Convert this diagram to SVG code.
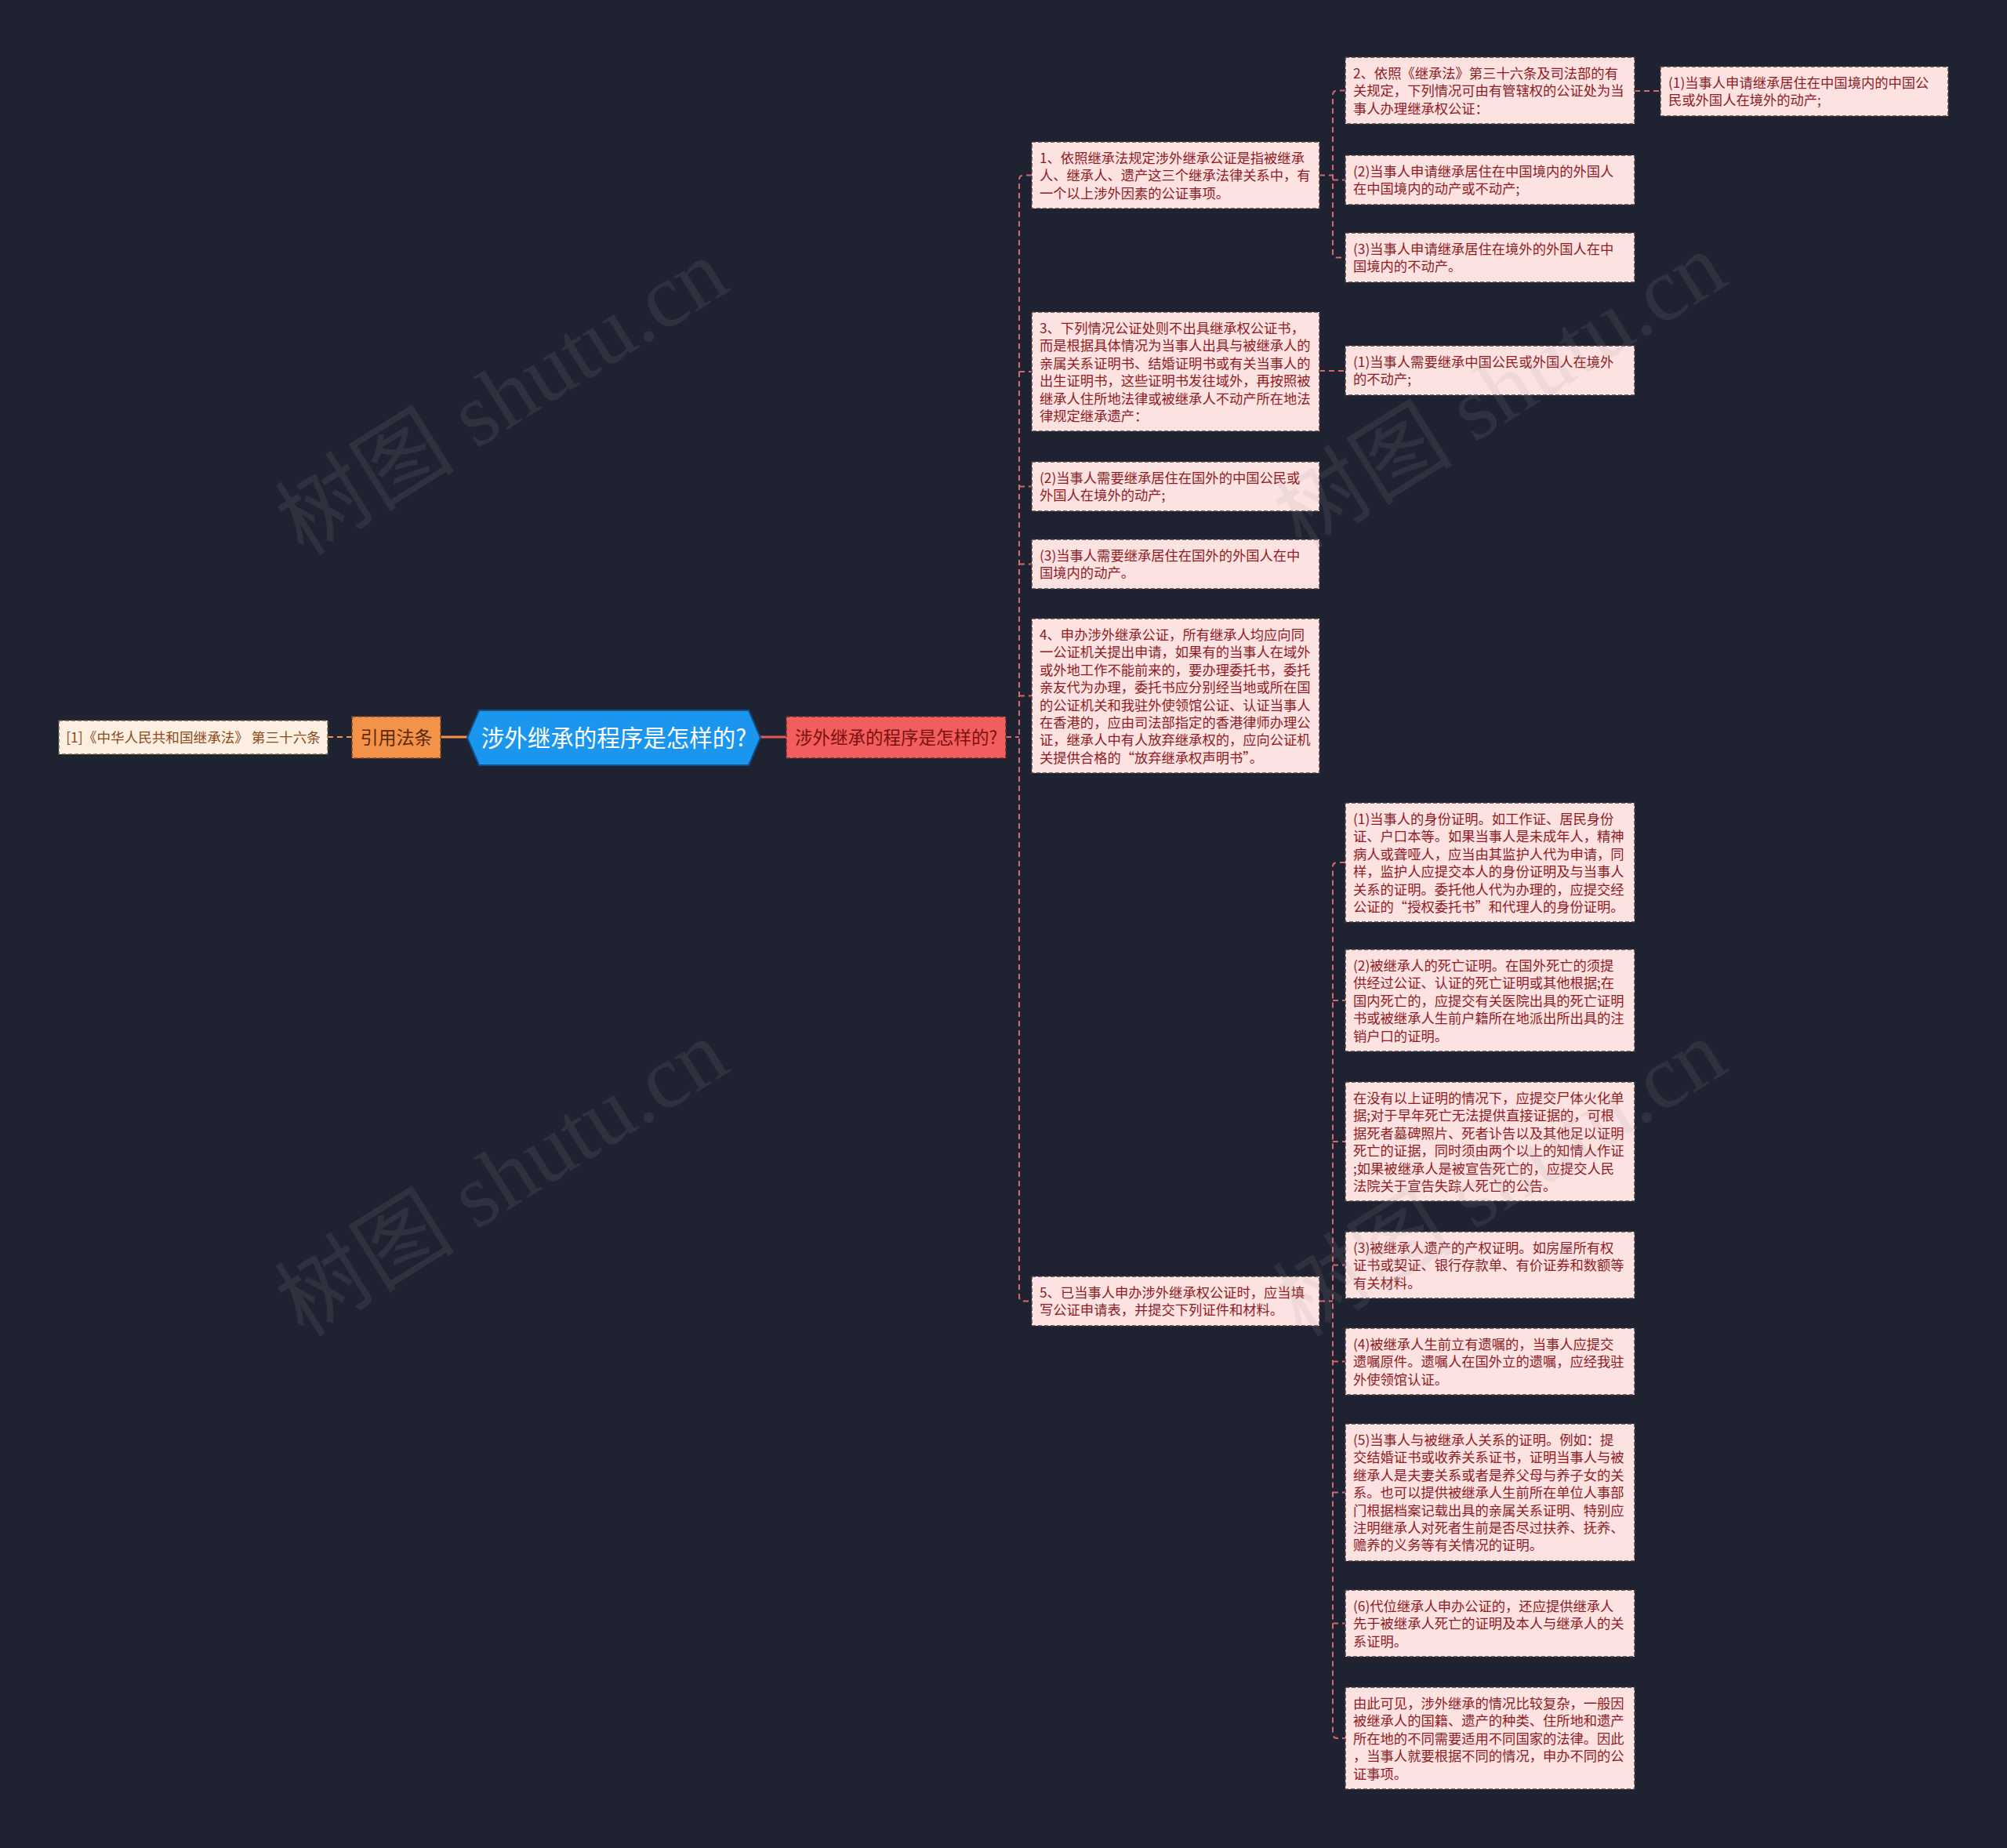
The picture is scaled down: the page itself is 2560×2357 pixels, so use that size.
<svg xmlns="http://www.w3.org/2000/svg" width="2560" height="2357" viewBox="0 0 2560 2357">
<style>
.leaf rect{fill:#fde2e2;stroke:#4a3d3f;stroke-width:1.5;stroke-dasharray:5 3}
.leaf text{font-family:"Microsoft YaHei","Noto Sans CJK SC","Noto Sans",sans-serif;font-size:17.3px;fill:#8e1c22}
.con{fill:none;stroke:#d8686b;stroke-width:2;stroke-dasharray:7 5}
.wm{font-family:"Liberation Serif","Noto Sans CJK SC",serif;font-size:115px;fill:#9a9a9a;opacity:0.13}
</style>
<rect x="0" y="0" width="2560" height="2357" fill="#1f2331"/>

<g id="connectors">
  <line x1="418" y1="940" x2="449" y2="940" stroke="#f5924a" stroke-width="2" stroke-dasharray="7 5"/>
  <line x1="562" y1="940" x2="598" y2="940" stroke="#f5924a" stroke-width="3"/>
  <line x1="968" y1="940" x2="1003" y2="940" stroke="#e05a5a" stroke-width="3"/>
  <line class="con" x1="1283" y1="940" x2="1300" y2="940"/>
  <path class="con" d="M1316 223.5 H1306 Q1300 223.5 1300 229.5 V1653.5 Q1300 1659.5 1306 1659.5 H1316"/>
  <line class="con" x1="1300" y1="474" x2="1316" y2="474"/>
  <line class="con" x1="1300" y1="620.5" x2="1316" y2="620.5"/>
  <line class="con" x1="1300" y1="719.5" x2="1316" y2="719.5"/>
  <line class="con" x1="1300" y1="887.5" x2="1316" y2="887.5"/>
  <line class="con" x1="1683" y1="223.5" x2="1700" y2="223.5"/>
  <path class="con" d="M1716 115.5 H1706 Q1700 115.5 1700 121.5 V322.5 Q1700 328.5 1706 328.5 H1716"/>
  <line class="con" x1="1700" y1="229.5" x2="1716" y2="229.5"/>
  <line class="con" x1="1683" y1="473" x2="1716" y2="473"/>
  <line class="con" x1="2085" y1="116" x2="2118" y2="116"/>
  <line class="con" x1="1683" y1="1659.5" x2="1700" y2="1659.5"/>
  <path class="con" d="M1716 1100 H1706 Q1700 1100 1700 1106 V2211 Q1700 2217 1706 2217 H1716"/>
  <line class="con" x1="1700" y1="1276" x2="1716" y2="1276"/>
  <line class="con" x1="1700" y1="1456" x2="1716" y2="1456"/>
  <line class="con" x1="1700" y1="1613.5" x2="1716" y2="1613.5"/>
  <line class="con" x1="1700" y1="1736.5" x2="1716" y2="1736.5"/>
  <line class="con" x1="1700" y1="1903.5" x2="1716" y2="1903.5"/>
  <line class="con" x1="1700" y1="2070.5" x2="1716" y2="2070.5"/>
</g>

<g id="citation">
  <rect x="75" y="919" width="343" height="43" fill="#fdf0e2" stroke="#6b5a4a" stroke-width="1.5" stroke-dasharray="5 3"/>
  <text x="246.5" y="946.5" text-anchor="middle" font-family="Microsoft YaHei,Noto Sans CJK SC,sans-serif" font-size="17.6" fill="#8b4a1c">[1]《中华人民共和国继承法》 第三十六条</text>
</g>

<g id="cite-label">
  <rect x="449" y="914" width="113" height="53" fill="#f5924a" stroke="#7a4a2a" stroke-width="1.5" stroke-dasharray="5 3"/>
  <text x="505.5" y="948.5" text-anchor="middle" font-family="Microsoft YaHei,Noto Sans CJK SC,sans-serif" font-size="23" fill="#5a2a08">引用法条</text>
</g>

<g id="root">
  <polygon points="596,941 611,906 955,906 970,941 955,976 611,976" fill="#1b96ee" stroke="#0f4f8a" stroke-width="2"/>
  <text x="783" y="951.5" text-anchor="middle" font-family="Microsoft YaHei,Noto Sans CJK SC,sans-serif" font-size="29.5" fill="#ffffff">涉外继承的程序是怎样的?</text>
</g>

<g id="main-branch">
  <rect x="1003" y="914" width="280" height="53" fill="#f25d5d" stroke="#6a2a2a" stroke-width="1.5" stroke-dasharray="5 3"/>
  <text x="1143" y="948.5" text-anchor="middle" font-family="Microsoft YaHei,Noto Sans CJK SC,sans-serif" font-size="22.5" fill="#7a1010">涉外继承的程序是怎样的?</text>
</g>

<g id="n1" class="leaf">
  <rect x="1316" y="181" width="367" height="85"/>
  <text x="1326" y="208"><tspan x="1326">1、依照继承法规定涉外继承公证是指被继承</tspan><tspan x="1326" dy="22.4">人、继承人、遗产这三个继承法律关系中，有</tspan><tspan x="1326" dy="22.4">一个以上涉外因素的公证事项。</tspan></text>
</g>

<g id="n3" class="leaf">
  <rect x="1316" y="398" width="367" height="152"/>
  <text x="1326" y="425"><tspan x="1326">3、下列情况公证处则不出具继承权公证书，</tspan><tspan x="1326" dy="22.4">而是根据具体情况为当事人出具与被继承人的</tspan><tspan x="1326" dy="22.4">亲属关系证明书、结婚证明书或有关当事人的</tspan><tspan x="1326" dy="22.4">出生证明书，这些证明书发往域外，再按照被</tspan><tspan x="1326" dy="22.4">继承人住所地法律或被继承人不动产所在地法</tspan><tspan x="1326" dy="22.4">律规定继承遗产：</tspan></text>
</g>

<g id="n3b" class="leaf">
  <rect x="1316" y="589" width="367" height="63"/>
  <text x="1326" y="616"><tspan x="1326">(2)当事人需要继承居住在国外的中国公民或</tspan><tspan x="1326" dy="22.4">外国人在境外的动产;</tspan></text>
</g>

<g id="n3c" class="leaf">
  <rect x="1316" y="688" width="367" height="63"/>
  <text x="1326" y="715"><tspan x="1326">(3)当事人需要继承居住在国外的外国人在中</tspan><tspan x="1326" dy="22.4">国境内的动产。</tspan></text>
</g>

<g id="n4" class="leaf">
  <rect x="1316" y="789" width="367" height="197"/>
  <text x="1326" y="816"><tspan x="1326">4、申办涉外继承公证，所有继承人均应向同</tspan><tspan x="1326" dy="22.4">一公证机关提出申请，如果有的当事人在域外</tspan><tspan x="1326" dy="22.4">或外地工作不能前来的，要办理委托书，委托</tspan><tspan x="1326" dy="22.4">亲友代为办理，委托书应分别经当地或所在国</tspan><tspan x="1326" dy="22.4">的公证机关和我驻外使领馆公证、认证当事人</tspan><tspan x="1326" dy="22.4">在香港的，应由司法部指定的香港律师办理公</tspan><tspan x="1326" dy="22.4">证，继承人中有人放弃继承权的，应向公证机</tspan><tspan x="1326" dy="22.4">关提供合格的“放弃继承权声明书”。</tspan></text>
</g>

<g id="n5" class="leaf">
  <rect x="1316" y="1628" width="367" height="63"/>
  <text x="1326" y="1655"><tspan x="1326">5、已当事人申办涉外继承权公证时，应当填</tspan><tspan x="1326" dy="22.4">写公证申请表，并提交下列证件和材料。</tspan></text>
</g>

<g id="n2" class="leaf">
  <rect x="1716" y="73" width="369" height="85"/>
  <text x="1726" y="100"><tspan x="1726">2、依照《继承法》第三十六条及司法部的有</tspan><tspan x="1726" dy="22.4">关规定，下列情况可由有管辖权的公证处为当</tspan><tspan x="1726" dy="22.4">事人办理继承权公证：</tspan></text>
</g>

<g id="n2a" class="leaf">
  <rect x="2118" y="85" width="367" height="63"/>
  <text x="2128" y="112"><tspan x="2128">(1)当事人申请继承居住在中国境内的中国公</tspan><tspan x="2128" dy="22.4">民或外国人在境外的动产;</tspan></text>
</g>

<g id="n2b" class="leaf">
  <rect x="1716" y="198" width="369" height="63"/>
  <text x="1726" y="225"><tspan x="1726">(2)当事人申请继承居住在中国境内的外国人</tspan><tspan x="1726" dy="22.4">在中国境内的动产或不动产;</tspan></text>
</g>

<g id="n2c" class="leaf">
  <rect x="1716" y="297" width="369" height="63"/>
  <text x="1726" y="324"><tspan x="1726">(3)当事人申请继承居住在境外的外国人在中</tspan><tspan x="1726" dy="22.4">国境内的不动产。</tspan></text>
</g>

<g id="n3a" class="leaf">
  <rect x="1716" y="441" width="369" height="63"/>
  <text x="1726" y="468"><tspan x="1726">(1)当事人需要继承中国公民或外国人在境外</tspan><tspan x="1726" dy="22.4">的不动产;</tspan></text>
</g>

<g id="n5a" class="leaf">
  <rect x="1716" y="1024" width="369" height="152"/>
  <text x="1726" y="1051"><tspan x="1726">(1)当事人的身份证明。如工作证、居民身份</tspan><tspan x="1726" dy="22.4">证、户口本等。如果当事人是未成年人，精神</tspan><tspan x="1726" dy="22.4">病人或聋哑人，应当由其监护人代为申请，同</tspan><tspan x="1726" dy="22.4">样，监护人应提交本人的身份证明及与当事人</tspan><tspan x="1726" dy="22.4">关系的证明。委托他人代为办理的，应提交经</tspan><tspan x="1726" dy="22.4">公证的“授权委托书”和代理人的身份证明。</tspan></text>
</g>

<g id="n5b" class="leaf">
  <rect x="1716" y="1211" width="369" height="130"/>
  <text x="1726" y="1238"><tspan x="1726">(2)被继承人的死亡证明。在国外死亡的须提</tspan><tspan x="1726" dy="22.4">供经过公证、认证的死亡证明或其他根据;在</tspan><tspan x="1726" dy="22.4">国内死亡的，应提交有关医院出具的死亡证明</tspan><tspan x="1726" dy="22.4">书或被继承人生前户籍所在地派出所出具的注</tspan><tspan x="1726" dy="22.4">销户口的证明。</tspan></text>
</g>

<g id="n5c" class="leaf">
  <rect x="1716" y="1380" width="369" height="152"/>
  <text x="1726" y="1407"><tspan x="1726">在没有以上证明的情况下，应提交尸体火化单</tspan><tspan x="1726" dy="22.4">据;对于早年死亡无法提供直接证据的，可根</tspan><tspan x="1726" dy="22.4">据死者墓碑照片、死者讣告以及其他足以证明</tspan><tspan x="1726" dy="22.4">死亡的证据，同时须由两个以上的知情人作证</tspan><tspan x="1726" dy="22.4">;如果被继承人是被宣告死亡的，应提交人民</tspan><tspan x="1726" dy="22.4">法院关于宣告失踪人死亡的公告。</tspan></text>
</g>

<g id="n5d" class="leaf">
  <rect x="1716" y="1571" width="369" height="85"/>
  <text x="1726" y="1598"><tspan x="1726">(3)被继承人遗产的产权证明。如房屋所有权</tspan><tspan x="1726" dy="22.4">证书或契证、银行存款单、有价证券和数额等</tspan><tspan x="1726" dy="22.4">有关材料。</tspan></text>
</g>

<g id="n5e" class="leaf">
  <rect x="1716" y="1694" width="369" height="85"/>
  <text x="1726" y="1721"><tspan x="1726">(4)被继承人生前立有遗嘱的，当事人应提交</tspan><tspan x="1726" dy="22.4">遗嘱原件。遗嘱人在国外立的遗嘱，应经我驻</tspan><tspan x="1726" dy="22.4">外使领馆认证。</tspan></text>
</g>

<g id="n5f" class="leaf">
  <rect x="1716" y="1816" width="369" height="175"/>
  <text x="1726" y="1843"><tspan x="1726">(5)当事人与被继承人关系的证明。例如：提</tspan><tspan x="1726" dy="22.4">交结婚证书或收养关系证书，证明当事人与被</tspan><tspan x="1726" dy="22.4">继承人是夫妻关系或者是养父母与养子女的关</tspan><tspan x="1726" dy="22.4">系。也可以提供被继承人生前所在单位人事部</tspan><tspan x="1726" dy="22.4">门根据档案记载出具的亲属关系证明、特别应</tspan><tspan x="1726" dy="22.4">注明继承人对死者生前是否尽过扶养、抚养、</tspan><tspan x="1726" dy="22.4">赡养的义务等有关情况的证明。</tspan></text>
</g>

<g id="n5g" class="leaf">
  <rect x="1716" y="2028" width="369" height="85"/>
  <text x="1726" y="2055"><tspan x="1726">(6)代位继承人申办公证的，还应提供继承人</tspan><tspan x="1726" dy="22.4">先于被继承人死亡的证明及本人与继承人的关</tspan><tspan x="1726" dy="22.4">系证明。</tspan></text>
</g>

<g id="n5h" class="leaf">
  <rect x="1716" y="2152" width="369" height="130"/>
  <text x="1726" y="2179"><tspan x="1726">由此可见，涉外继承的情况比较复杂，一般因</tspan><tspan x="1726" dy="22.4">被继承人的国籍、遗产的种类、住所地和遗产</tspan><tspan x="1726" dy="22.4">所在地的不同需要适用不同国家的法律。因此</tspan><tspan x="1726" dy="22.4">，当事人就要根据不同的情况，申办不同的公</tspan><tspan x="1726" dy="22.4">证事项。</tspan></text>
</g>

<g id="watermarks">
  <text class="wm" x="645" y="544" text-anchor="middle" transform="rotate(-32 645 514)">树图 shutu.cn</text>
  <text class="wm" x="645" y="1540" text-anchor="middle" transform="rotate(-32 645 1510)">树图 shutu.cn</text>
  <text class="wm" x="1918" y="536" text-anchor="middle" transform="rotate(-32 1918 506)">树图 shutu.cn</text>
  <text class="wm" x="1918" y="1540" text-anchor="middle" transform="rotate(-32 1918 1510)">树图 shutu.cn</text>
</g>
</svg>
